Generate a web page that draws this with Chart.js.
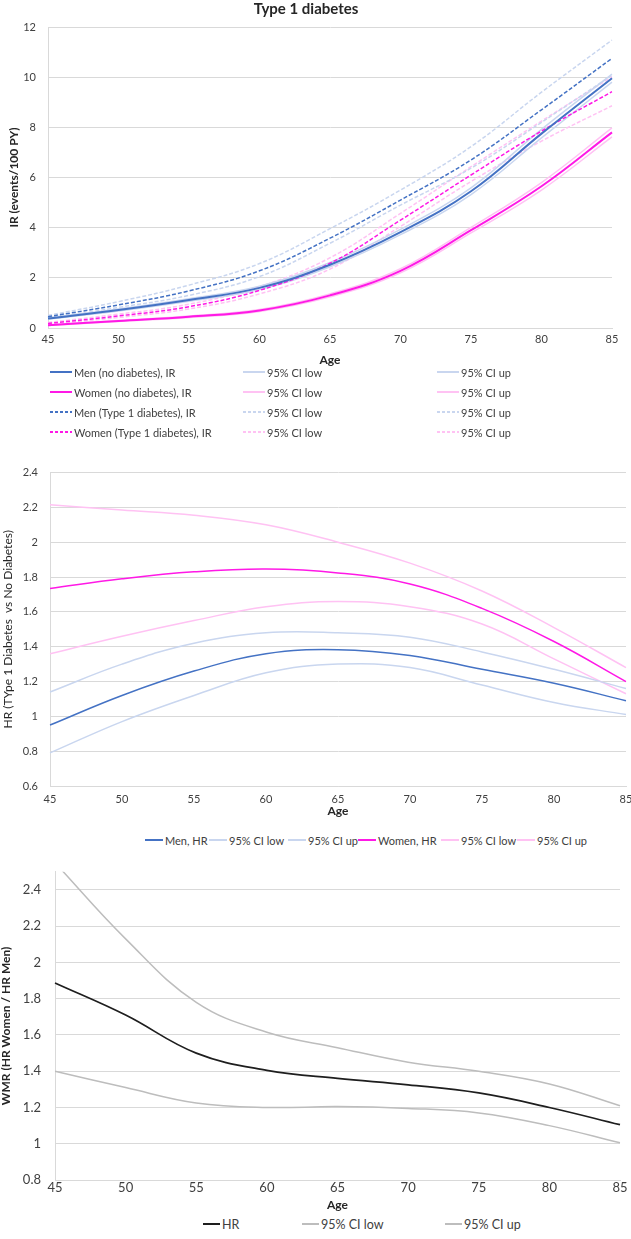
<!DOCTYPE html>
<html>
<head>
<meta charset="utf-8">
<script src="https://cdn.jsdelivr.net/npm/chart.js@4.4.1/dist/chart.umd.min.js"></script>
<style>
body { margin: 0; width: 631px; height: 1239px; overflow: hidden; background: #fff; position: relative; font-family: Lato, "Open Sans", sans-serif; }
.box { position: absolute; left: 0; }
.item { position: absolute; height: 16px; display: flex; align-items: center; white-space: nowrap; color: #404040; }
.swatch { display: inline-block; height: 2px; margin-right: 2px; }
</style>
</head>
<body>
<div class="box" style="top:0;width:631px;height:367px"><canvas id="irChart"></canvas></div>
<div class="box" style="top:454px;width:640px;height:364px"><canvas id="hrChart"></canvas></div>
<div class="box" style="top:850px;width:631px;height:362px"><canvas id="wmrChart"></canvas></div>
<script>
const ages = ['45', '50', '55', '60', '65', '70', '75', '80', '85'];

// IR (events/100 PY)
const menIR = [0.38, 0.72, 1.12, 1.6, 2.52, 3.82, 5.45, 7.75, 9.96];
const menIRLow = [0.35, 0.68, 1.07, 1.53, 2.44, 3.72, 5.32, 7.58, 9.8];
const menIRUp = [0.41, 0.76, 1.17, 1.67, 2.61, 3.93, 5.59, 7.92, 10.12];
const womenIR = [0.11, 0.28, 0.45, 0.7, 1.3, 2.28, 3.9, 5.65, 7.8];
const womenIRLow = [0.1, 0.26, 0.42, 0.66, 1.24, 2.2, 3.79, 5.5, 7.62];
const womenIRUp = [0.12, 0.3, 0.48, 0.74, 1.36, 2.36, 4.01, 5.8, 7.98];
const menT1IR = [0.45, 0.92, 1.48, 2.28, 3.58, 5.1, 6.7, 8.7, 10.75];
const menT1IRLow = [0.38, 0.82, 1.3, 2.05, 3.38, 4.9, 6.37, 8.2, 10.08];
const menT1IRUp = [0.5, 1.05, 1.71, 2.57, 3.96, 5.5, 7.23, 9.4, 11.48];
const womenT1IR = [0.18, 0.48, 0.85, 1.5, 2.58, 4.3, 6.1, 7.85, 9.42];
const womenT1IRLow = [0.14, 0.42, 0.76, 1.36, 2.35, 4.05, 5.84, 7.45, 8.86];
const womenT1IRUp = [0.22, 0.55, 0.95, 1.65, 2.8, 4.57, 6.43, 8.25, 10.02];

// HR type 1 vs no diabetes
const menHR = [0.95, 1.12, 1.26, 1.36, 1.383, 1.35, 1.27, 1.19, 1.09];
const menHRLow = [0.79, 0.97, 1.12, 1.25, 1.3, 1.28, 1.18, 1.08, 1.01];
const menHRUp = [1.14, 1.3, 1.42, 1.48, 1.48, 1.455, 1.37, 1.27, 1.16];
const womenHR = [1.735, 1.79, 1.83, 1.846, 1.824, 1.76, 1.62, 1.43, 1.2];
const womenHRLow = [1.36, 1.46, 1.55, 1.63, 1.66, 1.63, 1.53, 1.33, 1.13];
const womenHRUp = [2.215, 2.185, 2.155, 2.1, 2.0, 1.88, 1.72, 1.51, 1.28];

// WMR (HR women / HR men)
const wmr = [1.887, 1.71, 1.5, 1.405, 1.36, 1.325, 1.28, 1.2, 1.105];
const wmrLow = [1.4, 1.31, 1.225, 1.2, 1.205, 1.195, 1.17, 1.1, 1.005];
const wmrUp = [2.55, 2.13, 1.78, 1.615, 1.53, 1.45, 1.4, 1.33, 1.21];

const blue = '#4472C4', blueCI = '#C9D6EF', pink = '#FF19E6', pinkCI = '#FFC2F3';
const dark = '#1E1E1E', grey = '#BDBDBD';

Chart.defaults.font.family = 'Lato, "Open Sans", sans-serif';
Chart.defaults.animation = false;

function line(label, data, color, width, dash, order) {
    return {
        label: label,
        data: data,
        borderColor: color,
        backgroundColor: color,
        borderWidth: width,
        borderDash: dash,
        order: order,
        pointRadius: 0,
        tension: 0.4,
        fill: false
    };
}

function axes(o) {
    return {
        x: {
            grid: { display: false, drawTicks: false },
            border: { display: true, color: '#D9D9D9' },
            ticks: { color: '#404040', font: { size: o.xFont }, padding: o.xPad, maxRotation: 0, autoSkip: false },
            title: { display: true, text: 'Age', color: '#262626', font: { size: 12, weight: 'bold' }, padding: 0 },
            afterFit: s => { s.height = o.xHeight; }
        },
        y: {
            min: o.min,
            max: o.max,
            grid: { color: '#D9D9D9', drawTicks: false },
            border: { display: true, color: '#D9D9D9' },
            ticks: {
                stepSize: o.step, color: '#404040', font: { size: o.yFont }, padding: o.yPad,
                callback: v => String(+v.toFixed(1))
            },
            title: {
                display: true, text: o.yTitle, color: '#262626',
                font: { size: 12, weight: o.yWeight, lineHeight: o.yLine },
                padding: { top: o.yTitlePad, bottom: 0 }
            },
            afterFit: s => { s.width = o.yWidth; },
            afterBuildTicks: s => {
                s.ticks = s.ticks.filter(t => Math.abs(t.value / o.step - Math.round(t.value / o.step)) < 1e-6);
            }
        }
    };
}

function legend(datasets, spots, fontSize, swatchW) {
    datasets.forEach((ds, i) => {
        const item = document.createElement('div');
        item.className = 'item';
        item.style.left = spots[i][0] + 'px';
        item.style.top = (spots[i][1] - 8) + 'px';
        item.style.fontSize = fontSize + 'px';
        const sw = document.createElement('span');
        sw.className = 'swatch';
        sw.style.width = swatchW + 'px';
        sw.style.background = ds.borderDash.length
            ? `repeating-linear-gradient(90deg, ${ds.borderColor} 0 3px, transparent 3px 5px)`
            : ds.borderColor;
        const txt = document.createElement('span');
        txt.textContent = ds.label;
        item.appendChild(sw);
        item.appendChild(txt);
        document.body.appendChild(item);
    });
}

function drawIR() {
    const dash = [4, 2];
    const datasets = [
        line('Men (no diabetes), IR', menIR, blue, 2, [], 0),
        line('95% CI low', menIRLow, blueCI, 1.5, [], 1),
        line('95% CI up', menIRUp, blueCI, 1.5, [], 1),
        line('Women (no diabetes), IR', womenIR, pink, 2, [], 0),
        line('95% CI low', womenIRLow, pinkCI, 1.5, [], 1),
        line('95% CI up', womenIRUp, pinkCI, 1.5, [], 1),
        line('Men (Type 1 diabetes), IR', menT1IR, blue, 1.5, dash, 0),
        line('95% CI low', menT1IRLow, blueCI, 1.5, dash, 1),
        line('95% CI up', menT1IRUp, blueCI, 1.5, dash, 1),
        line('Women (Type 1 diabetes), IR', womenT1IR, pink, 1.5, dash, 0),
        line('95% CI low', womenT1IRLow, pinkCI, 1.5, dash, 1),
        line('95% CI up', womenT1IRUp, pinkCI, 1.5, dash, 1)
    ];
    const ctx = document.getElementById('irChart').getContext('2d');
    new Chart(ctx, {
        type: 'line',
        data: { labels: ages, datasets: datasets },
        options: {
            responsive: true,
            maintainAspectRatio: false,
            layout: { padding: { top: 0, right: 19, left: 0, bottom: 0 } },
            plugins: {
                legend: { display: false },
                tooltip: { enabled: false },
                title: {
                    display: true, text: 'Type 1 diabetes', color: '#262626',
                    font: { size: 15, weight: 'bold', lineHeight: 1.2 },
                    padding: { top: 0, bottom: 9 }
                }
            },
            scales: axes({
                xFont: 11, xPad: 5, xHeight: 39,
                min: 0, max: 12, step: 2, yFont: 11, yPad: 12,
                yTitle: 'IR (events/100 PY)', yWeight: 'bold', yLine: 1.2, yTitlePad: 7, yWidth: 48
            })
        }
    });
    const cols = [50, 243, 437];
    const rows = [372, 392, 412, 432];
    legend(datasets, datasets.map((d, i) => [cols[i % 3], rows[Math.floor(i / 3)]]), 11, 22);
}

function drawHR() {
    const datasets = [
        line('Men, HR', menHR, blue, 1.5, [], 0),
        line('95% CI low', menHRLow, blueCI, 1.5, [], 1),
        line('95% CI up', menHRUp, blueCI, 1.5, [], 1),
        line('Women, HR', womenHR, pink, 1.5, [], 0),
        line('95% CI low', womenHRLow, pinkCI, 1.5, [], 1),
        line('95% CI up', womenHRUp, pinkCI, 1.5, [], 1)
    ];
    const ctx = document.getElementById('hrChart').getContext('2d');
    new Chart(ctx, {
        type: 'line',
        data: { labels: ages, datasets: datasets },
        options: {
            responsive: true,
            maintainAspectRatio: false,
            layout: { padding: { top: 8, right: 14, left: 0, bottom: 0 } },
            plugins: { legend: { display: false }, tooltip: { enabled: false } },
            scales: axes({
                xFont: 11, xPad: 7, xHeight: 32,
                min: 0.6, max: 2.4, step: 0.2, yFont: 11, yPad: 12,
                yTitle: 'HR (TYpe 1 Diabetes  vs No Diabetes)', yWeight: 'normal', yLine: 1.2, yTitlePad: 1, yWidth: 50
            })
        }
    });
    const xs = [145, 209, 288, 358, 441, 517];
    legend(datasets, xs.map(x => [x, 840]), 11, 18);
}

function drawWMR() {
    const datasets = [
        line('HR', wmr, dark, 1.75, [], 0),
        line('95% CI low', wmrLow, grey, 1.5, [], 1),
        line('95% CI up', wmrUp, grey, 1.5, [], 1)
    ];
    const ctx = document.getElementById('wmrChart').getContext('2d');
    new Chart(ctx, {
        type: 'line',
        data: { labels: ages, datasets: datasets },
        options: {
            responsive: true,
            maintainAspectRatio: false,
            layout: { padding: { top: 8, right: 11, left: 0, bottom: 0 } },
            plugins: { legend: { display: false }, tooltip: { enabled: false } },
            scales: axes({
                xFont: 13, xPad: 0, xHeight: 32,
                min: 0.8, max: 2.5, step: 0.2, yFont: 13, yPad: 14,
                yTitle: 'WMR (HR Women / HR Men)', yWeight: 'bold', yLine: 1, yTitlePad: 0, yWidth: 55
            })
        }
    });
    const xs = [203, 302, 445];
    legend(datasets, xs.map(x => [x, 1224]), 12.5, 17);
}

drawIR();
drawHR();
drawWMR();
</script>
</body>
</html>
